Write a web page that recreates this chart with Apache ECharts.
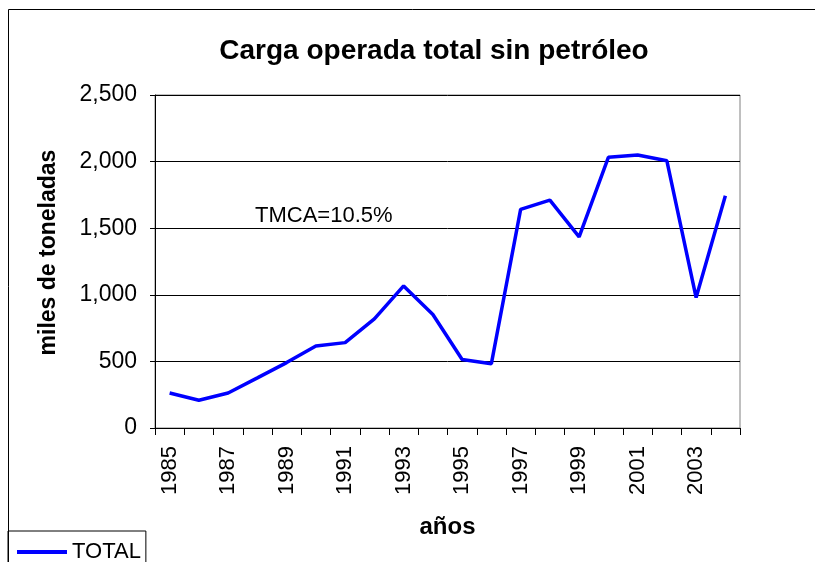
<!DOCTYPE html>
<html>
<head>
<meta charset="utf-8">
<script src="https://cdn.jsdelivr.net/npm/echarts@6/dist/echarts.min.js"></script>
<style>
    html, body { margin: 0; padding: 0; background: #fff; }
    #chart { width: 815px; height: 562px; }
</style>
</head>
<body>
<div id="chart"></div>
<script>
    // years and tonnage (miles de toneladas)
    var years = ['1985', '1986', '1987', '1988', '1989', '1990', '1991', '1992', '1993', '1994',
        '1995', '1996', '1997', '1998', '1999', '2000', '2001', '2002', '2003', '2004'];
    var total = [263, 208, 263, 376, 491, 616, 641, 819, 1067, 852,
        514, 483, 1641, 1711, 1435, 2032, 2049, 2006, 979, 1743];
    var yTicks = [0, 500, 1000, 1500, 2000, 2500];

    var font = 'Liberation Sans, Arial, sans-serif';
    var myChart = echarts.init(document.getElementById('chart'));

    var option = {
        animation: false,
        backgroundColor: '#fff',
        title: {
            text: 'Carga operada total sin petróleo',
            left: 429,
            textAlign: 'center',
            top: 32,
            textStyle: { fontFamily: font, fontSize: 28, fontWeight: 'bold', color: '#000' }
        },
        grid: {
            left: 155,
            right: 75,
            top: 95,
            bottom: 134,
            show: true,
            borderColor: '#808080',
            borderWidth: 1
        },
        legend: {
            data: ['TOTAL'],
            left: 8,
            top: 531,
            orient: 'vertical',
            icon: 'rect',
            itemWidth: 50,
            itemHeight: 4,
            padding: [10, 5, 30, 9],
            borderColor: '#000',
            borderWidth: 1,
            textStyle: { fontFamily: font, fontSize: 22, color: '#000' }
        },
        xAxis: {
            type: 'category',
            data: years,
            boundaryGap: true,
            name: 'años',
            nameLocation: 'middle',
            nameGap: 87,
            nameTextStyle: { fontFamily: font, fontSize: 24, fontWeight: 'bold', color: '#000' },
            axisLine: { lineStyle: { color: '#000', width: 1 } },
            axisTick: { show: true, interval: 0, length: 7, lineStyle: { color: '#000' } },
            axisLabel: {
                interval: 1,
                rotate: 90,
                margin: 18,
                fontFamily: font,
                fontSize: 22,
                color: '#000'
            },
            splitLine: { show: false }
        },
        yAxis: {
            type: 'value',
            min: yTicks[0],
            max: yTicks[yTicks.length - 1],
            interval: 500,
            name: 'miles de toneladas',
            nameLocation: 'middle',
            nameGap: 95,
            nameTextStyle: {
                fontFamily: font, fontSize: 23, fontWeight: 'bold', color: '#000',
                padding: [0, 0, 0, 18]
            },
            axisLine: { show: true, lineStyle: { color: '#000', width: 1 } },
            axisTick: { show: true, length: 5, lineStyle: { color: '#000' } },
            axisLabel: {
                margin: 18,
                fontFamily: font,
                fontSize: 23,
                color: '#000',
                formatter: function (val) {
                    return val.toLocaleString('en-US');
                }
            },
            splitLine: { lineStyle: { color: '#000', width: 1 } }
        },
        graphic: [
            {
                type: 'rect',
                shape: { x: 8.5, y: 9.5, width: 830, height: 600 },
                style: { fill: 'none', stroke: '#000', lineWidth: 1 },
                z: -1
            },
            {
                type: 'text',
                left: 255,
                top: 205,
                style: { text: 'TMCA=10.5%', fontFamily: font, fontSize: 22, fill: '#000' }
            }
        ],
        series: [{
            name: 'TOTAL',
            type: 'line',
            data: total,
            symbol: 'none',
            lineStyle: { color: '#0000ff', width: 3.5 },
            itemStyle: { color: '#0000ff' }
        }]
    };

    myChart.setOption(option);
</script>
</body>
</html>
